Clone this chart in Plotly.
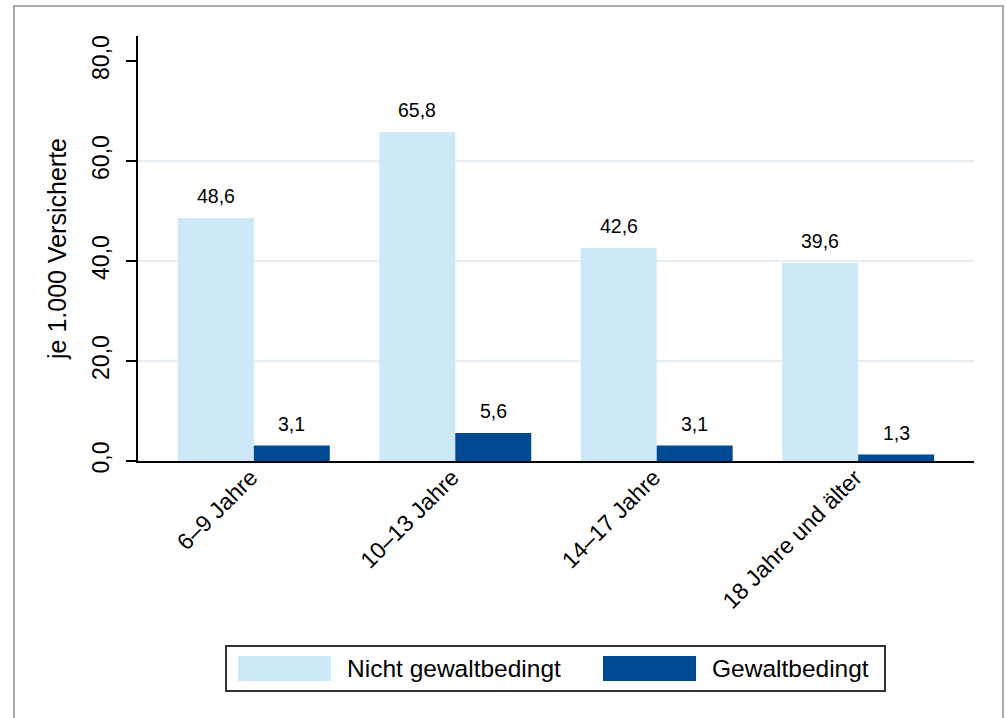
import plotly.graph_objects as go

categories = ["6–9 Jahre", "10–13 Jahre", "14–17 Jahre", "18 Jahre und älter"]
nicht_gewalt = [48.6, 65.8, 42.6, 39.6]
gewalt = [3.1, 5.6, 3.1, 1.3]
series_names = ["Nicht gewaltbedingt", "Gewaltbedingt"]
y_ticks = [0, 20, 40, 60, 80]
grid_vals = [20, 40, 60]

LIGHT = "#cde9f7"
DARK = "#004a93"
FONT = "Liberation Sans, Arial, Helvetica, sans-serif"

W, H = 1006, 718
L, R, T, B = 138, 32, 36, 257
pw, ph = W - L - R, H - T - B

def px(x):
    return (x - L) / pw

def py(y):
    return (H - B - y) / ph

fig = go.Figure()
annotations = []
for name, vals, col, shift in [(series_names[0], nicht_gewalt, LIGHT, -38),
                               (series_names[1], gewalt, DARK, 38)]:
    fig.add_trace(go.Bar(
        x=categories, y=vals, name=name, marker=dict(color=col, line=dict(width=0)),
        showlegend=False, hoverinfo="x+y",
    ))
    for c, v in zip(categories, vals):
        annotations.append(dict(
            x=c, y=v, xref="x", yref="y", xshift=shift, yshift=9,
            text=f"{v:.1f}".replace(".", ","), showarrow=False,
            xanchor="center", yanchor="bottom",
            font=dict(size=19.5, color="black", family=FONT)))

shapes = []
for g in grid_vals:
    shapes.append(dict(type="line", xref="paper", yref="y", x0=0, x1=1, y0=g, y1=g,
                       line=dict(color="#e6edf2", width=2), layer="below"))
# outer frame
shapes.append(dict(type="rect", xref="paper", yref="paper",
                   x0=px(14), x1=px(1003), y0=py(740), y1=py(6),
                   line=dict(color="#aaaaaa", width=2), layer="below"))
# legend box
shapes.append(dict(type="rect", xref="paper", yref="paper",
                   x0=px(226), x1=px(885), y0=py(691), y1=py(646),
                   line=dict(color="#333333", width=2)))
shapes.append(dict(type="rect", xref="paper", yref="paper",
                   x0=px(238), x1=px(331), y0=py(681), y1=py(656),
                   fillcolor=LIGHT, line=dict(width=0)))
shapes.append(dict(type="rect", xref="paper", yref="paper",
                   x0=px(603), x1=px(696), y0=py(681), y1=py(656),
                   fillcolor=DARK, line=dict(width=0)))

annotations += [
    dict(xref="paper", yref="paper", x=px(345), y=py(668), text=series_names[0],
         showarrow=False, xanchor="left", yanchor="middle",
         font=dict(size=24.5, color="black", family=FONT)),
    dict(xref="paper", yref="paper", x=px(710), y=py(668), text=series_names[1],
         showarrow=False, xanchor="left", yanchor="middle",
         font=dict(size=24.5, color="black", family=FONT)),
]

fig.update_layout(
    width=W, height=H,
    margin=dict(l=L, r=R, t=T, b=B, autoexpand=False),
    paper_bgcolor="white", plot_bgcolor="white",
    separators=",.",
    barmode="group", bargap=0.246, bargroupgap=0,
    font=dict(family=FONT, color="black"),
    shapes=shapes, annotations=annotations,
    xaxis=dict(range=[-0.575, 3.575], showline=True, linecolor="black", linewidth=2,
               ticks="", tickangle=-45, tickfont=dict(size=23), showgrid=False,
               zeroline=False, ticklabelstandoff=-8, ticklabelshift=-3),
    yaxis=dict(range=[0, 85], showline=True, linecolor="black", linewidth=2,
               ticks="outside", ticklen=10, tickwidth=1.5, tickcolor="black",
               tickvals=y_ticks, tickformat=".1f", tickangle=-90,
               tickfont=dict(size=23), showgrid=False, zeroline=False,
               ticklabelstandoff=8,
               title=dict(text="je 1.000 Versicherte", font=dict(size=25), standoff=14)),
)

fig.write_html("out.html", config={"displayModeBar": False},
               post_script="document.body.style.margin='0';")
